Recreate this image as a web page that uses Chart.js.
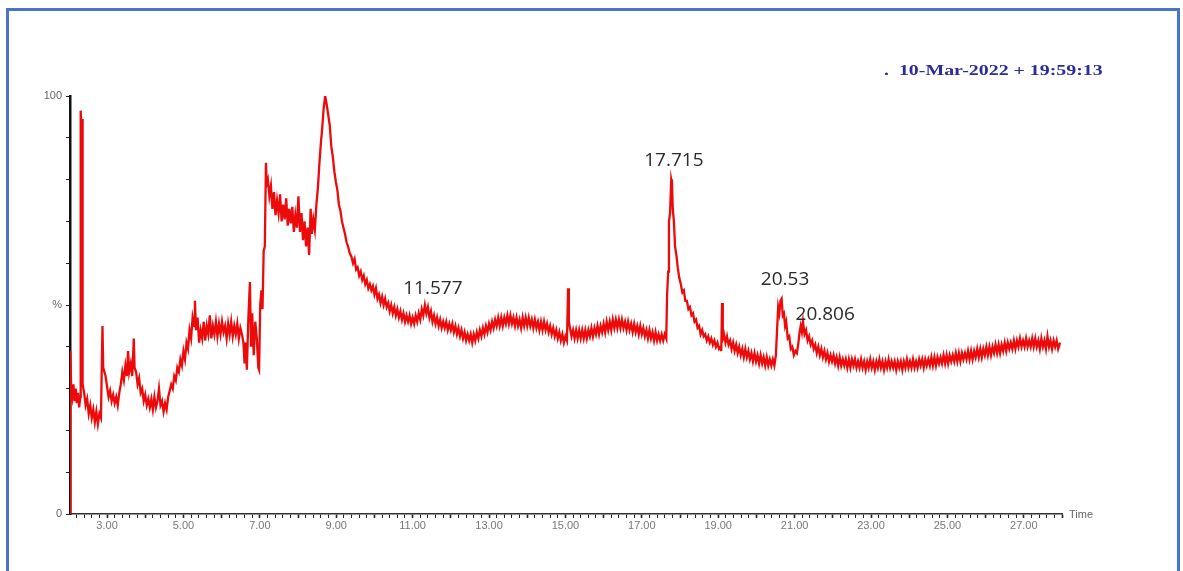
<!DOCTYPE html>
<html>
<head>
<meta charset="utf-8">
<script src="https://cdn.jsdelivr.net/npm/chart.js@4.4.1/dist/chart.umd.min.js"></script>
<style>
  body { margin: 0; background: #fff; overflow: hidden; width: 1183px; height: 571px; }
  .frame { position: absolute; left: 6px; top: 8px; width: 1168px; height: 600px; border: 3px solid #4a74c8; border-bottom: none; }
  #tic { position: absolute; left: 0; top: 0; }
  .stamp { position: absolute; left: 884px; top: 63px; font: bold 14px "Liberation Serif", serif; color: #2b2b9e; white-space: nowrap; transform: scaleX(1.42); transform-origin: left top; }
</style>
</head>
<body>
<div class="frame"></div>
<canvas id="tic" width="1183" height="571"></canvas>
<div class="stamp">.&nbsp;&nbsp;10-Mar-2022 + 19:59:13</div>
<script>
// retention time (min)
const scanTimes = [
  2.03, 2.04, 2.06, 2.09, 2.12, 2.15, 2.18, 2.21, 2.24, 2.27, 2.30, 2.31, 2.33, 2.345, 2.36, 2.40, 2.44, 2.48, 2.52, 2.56,
  2.60, 2.64, 2.68, 2.72, 2.76, 2.80, 2.84, 2.88, 2.90, 2.93, 2.96, 3.00, 3.04, 3.08, 3.12, 3.16, 3.20, 3.24, 3.28, 3.32,
  3.36, 3.40, 3.44, 3.48, 3.52, 3.55, 3.58, 3.62, 3.66, 3.70, 3.72, 3.76, 3.80, 3.84, 3.88, 3.92, 3.96, 4.00, 4.04, 4.08,
  4.12, 4.16, 4.20, 4.24, 4.28, 4.32, 4.36, 4.40, 4.44, 4.48, 4.52, 4.56, 4.60, 4.64, 4.68, 4.72, 4.76, 4.80, 4.84, 4.88,
  4.92, 4.96, 5.00, 5.04, 5.08, 5.12, 5.16, 5.20, 5.24, 5.28, 5.30, 5.33, 5.37, 5.41, 5.45, 5.49, 5.53, 5.57, 5.61, 5.65,
  5.69, 5.73, 5.77, 5.81, 5.85, 5.89, 5.93, 5.97, 6.01, 6.05, 6.09, 6.13, 6.17, 6.21, 6.25, 6.29, 6.33, 6.37, 6.41, 6.45,
  6.49, 6.53, 6.57, 6.60, 6.63, 6.66, 6.70, 6.74, 6.77, 6.80, 6.84, 6.88, 6.92, 6.96, 6.98, 7.01, 7.04, 7.07, 7.10, 7.13,
  7.16, 7.18, 7.21, 7.25, 7.29, 7.33, 7.37, 7.41, 7.45, 7.49, 7.53, 7.57, 7.61, 7.65, 7.69, 7.73, 7.77, 7.81, 7.85, 7.89,
  7.93, 7.97, 8.01, 8.05, 8.09, 8.13, 8.17, 8.21, 8.25, 8.29, 8.33, 8.36, 8.40, 8.44, 8.48, 8.52, 8.56, 8.60, 8.63, 8.67,
  8.71, 8.75, 8.79, 8.83, 8.87, 8.91, 8.95, 8.99, 9.03, 9.07, 9.11, 9.15, 9.19, 9.23, 9.27, 9.31, 9.35, 9.40, 9.44, 9.48,
  9.52, 9.56, 9.60, 9.64, 9.68, 9.72, 9.76, 9.80, 9.84, 9.88, 9.92, 9.96, 10.00, 10.04, 10.08, 10.12, 10.16, 10.20, 10.24, 10.28,
  10.32, 10.36, 10.40, 10.44, 10.48, 10.52, 10.56, 10.60, 10.64, 10.68, 10.72, 10.76, 10.80, 10.84, 10.88, 10.92, 10.96, 11.00, 11.04, 11.08,
  11.12, 11.16, 11.20, 11.24, 11.28, 11.32, 11.36, 11.40, 11.44, 11.48, 11.52, 11.56, 11.60, 11.64, 11.68, 11.72, 11.76, 11.80, 11.84, 11.88,
  11.92, 11.96, 12.00, 12.04, 12.08, 12.12, 12.16, 12.20, 12.24, 12.28, 12.32, 12.36, 12.40, 12.44, 12.48, 12.52, 12.56, 12.60, 12.64, 12.68,
  12.72, 12.76, 12.80, 12.84, 12.88, 12.92, 12.96, 13.00, 13.04, 13.08, 13.12, 13.16, 13.20, 13.24, 13.28, 13.32, 13.36, 13.40, 13.44, 13.48,
  13.52, 13.56, 13.60, 13.64, 13.68, 13.72, 13.76, 13.80, 13.84, 13.88, 13.92, 13.96, 14.00, 14.04, 14.08, 14.12, 14.16, 14.20, 14.24, 14.28,
  14.32, 14.36, 14.40, 14.44, 14.48, 14.52, 14.56, 14.60, 14.64, 14.68, 14.72, 14.76, 14.80, 14.84, 14.88, 14.92, 14.96, 15.00, 15.04, 15.07,
  15.09, 15.12, 15.16, 15.20, 15.24, 15.28, 15.32, 15.36, 15.40, 15.44, 15.48, 15.52, 15.56, 15.60, 15.64, 15.68, 15.72, 15.76, 15.80, 15.84,
  15.88, 15.92, 15.96, 16.00, 16.04, 16.08, 16.12, 16.16, 16.20, 16.24, 16.28, 16.32, 16.36, 16.40, 16.44, 16.48, 16.52, 16.56, 16.60, 16.64,
  16.68, 16.72, 16.76, 16.80, 16.84, 16.88, 16.92, 16.96, 17.00, 17.04, 17.08, 17.12, 17.16, 17.20, 17.24, 17.28, 17.32, 17.36, 17.40, 17.44,
  17.48, 17.52, 17.56, 17.60, 17.64, 17.66, 17.69, 17.71, 17.74, 17.77, 17.79, 17.81, 17.84, 17.87, 17.91, 17.94, 17.98, 18.02, 18.06, 18.10,
  18.14, 18.18, 18.22, 18.26, 18.30, 18.34, 18.38, 18.42, 18.46, 18.50, 18.54, 18.58, 18.62, 18.66, 18.70, 18.74, 18.78, 18.82, 18.86, 18.90,
  18.94, 18.98, 19.02, 19.06, 19.08, 19.10, 19.12, 19.15, 19.19, 19.23, 19.27, 19.31, 19.35, 19.39, 19.43, 19.47, 19.51, 19.55, 19.59, 19.63,
  19.67, 19.71, 19.75, 19.79, 19.83, 19.87, 19.91, 19.95, 19.99, 20.03, 20.07, 20.11, 20.15, 20.19, 20.23, 20.27, 20.31, 20.35, 20.39, 20.43,
  20.47, 20.51, 20.54, 20.57, 20.60, 20.63, 20.66, 20.69, 20.72, 20.75, 20.78, 20.82, 20.86, 20.90, 20.94, 20.98, 21.02, 21.06, 21.10, 21.13,
  21.16, 21.19, 21.22, 21.26, 21.30, 21.34, 21.38, 21.42, 21.46, 21.50, 21.54, 21.58, 21.62, 21.66, 21.70, 21.74, 21.78, 21.82, 21.86, 21.90,
  21.94, 21.98, 22.02, 22.06, 22.10, 22.14, 22.18, 22.22, 22.26, 22.30, 22.34, 22.38, 22.42, 22.46, 22.50, 22.54, 22.58, 22.62, 22.66, 22.70,
  22.74, 22.78, 22.82, 22.86, 22.90, 22.94, 22.98, 23.02, 23.06, 23.10, 23.14, 23.18, 23.22, 23.26, 23.30, 23.34, 23.38, 23.42, 23.46, 23.50,
  23.54, 23.58, 23.62, 23.66, 23.70, 23.74, 23.78, 23.82, 23.86, 23.90, 23.94, 23.98, 24.02, 24.06, 24.10, 24.14, 24.18, 24.22, 24.26, 24.30,
  24.34, 24.38, 24.42, 24.46, 24.50, 24.54, 24.58, 24.62, 24.66, 24.70, 24.74, 24.78, 24.82, 24.86, 24.90, 24.94, 24.98, 25.02, 25.06, 25.10,
  25.14, 25.18, 25.22, 25.26, 25.30, 25.34, 25.38, 25.42, 25.46, 25.50, 25.54, 25.58, 25.62, 25.66, 25.70, 25.74, 25.78, 25.82, 25.86, 25.90,
  25.94, 25.98, 26.02, 26.06, 26.10, 26.14, 26.18, 26.22, 26.26, 26.30, 26.34, 26.38, 26.42, 26.46, 26.50, 26.54, 26.58, 26.62, 26.66, 26.70,
  26.74, 26.78, 26.82, 26.86, 26.90, 26.94, 26.98, 27.02, 27.06, 27.10, 27.14, 27.18, 27.22, 27.26, 27.30, 27.34, 27.38, 27.42, 27.46, 27.50,
  27.54, 27.58, 27.62, 27.66, 27.70, 27.74, 27.78, 27.82, 27.86, 27.90, 27.95
];

// relative abundance (%)
const intensity = [
  0, 39, 30, 28, 31, 27, 30, 26.5, 29, 25.5, 28, 96.5, 91, 94.5, 31, 29, 26, 27.5, 24, 26,
  23, 25, 22, 24.5, 21.5, 24, 23, 45, 35, 34, 33, 30.5, 28, 29.5, 27, 28.5, 26.5, 28, 26, 29,
  31, 34, 32, 35.5, 33, 39, 34, 36, 33, 42, 35, 34, 31, 32.5, 29, 30, 27, 28.5, 26, 27.5,
  25.5, 27.5, 25, 28, 25.5, 27, 30, 26, 27, 24.5, 26.5, 25, 28, 29.5, 31, 30, 33, 32, 35, 34,
  37, 35.5, 39, 37, 41, 39.5, 44, 42, 47, 45, 51, 44, 47, 41, 44, 42, 46, 41.5, 45, 43,
  47.5, 42, 45, 43, 46, 42.5, 45.5, 43, 46, 43.5, 45, 42, 45.5, 43, 46, 42.5, 45, 43, 45.5, 42,
  44.5, 43, 41, 36, 41, 34.5, 47, 55.5, 40, 48, 38, 46, 42, 35, 34.5, 50, 53.5, 49, 63, 64,
  84, 79, 80, 76, 78.5, 73, 77, 71.5, 75, 72, 76.5, 70, 74, 70.5, 75.5, 69, 73, 69.5, 73.5, 67.5,
  71.5, 68.5, 76, 67.5, 72, 65.5, 70, 64, 68.5, 62, 73, 67, 70.5, 68, 74, 78, 84, 89, 92, 97,
  100, 98, 95.5, 93, 88, 85.5, 82, 79.5, 77.5, 74, 72.5, 70, 68.5, 67, 65, 64, 62.5, 61.5, 60, 61,
  58.5, 59, 57, 58, 56, 57, 55, 56, 54, 55, 53.5, 54.5, 52.5, 54, 51.5, 52.5, 50.5, 52, 50, 51.5,
  49.5, 50.5, 48.5, 50, 48, 49.5, 47.5, 49, 47, 48.5, 46.5, 48, 46, 47.5, 46, 47.5, 45.5, 47, 45.5, 47.5,
  46, 48, 46.5, 49, 47.5, 50, 48, 49.5, 47, 48.5, 46, 47.5, 45.5, 47, 45, 46.5, 44.5, 46, 44.5, 46,
  44, 45.5, 44, 45.5, 43.5, 45, 43, 44.5, 42.5, 44, 42, 43.5, 41.5, 43, 41.5, 43, 41, 43, 41.5, 43.5,
  42, 44, 42.5, 44.5, 43, 45, 43.5, 45.5, 44, 46, 44.5, 46.5, 45, 47, 45, 47, 45, 47, 45.5, 47.5,
  45.5, 47.5, 45.5, 47, 45, 47, 45, 46.5, 44.5, 47, 45, 47, 45, 47, 45, 46.5, 44.5, 46.5, 44.5, 46,
  44, 46, 44, 46, 44, 45.5, 43.5, 45, 43, 44.5, 42.5, 44, 42, 43.5, 41.5, 43, 41, 42.5, 41.5, 54,
  46, 44.5, 42.5, 44, 42, 44, 42, 44, 42, 44, 42, 44, 42, 44, 42.5, 44.5, 42.5, 44.5, 43, 45,
  43, 45, 43.5, 45.5, 43.5, 46, 44, 46, 44, 46.5, 44.5, 46.5, 44.5, 46.5, 44.5, 46.5, 44.5, 46, 44, 46,
  44, 45.5, 43.5, 45.5, 43.5, 45, 43, 45, 43, 44.5, 42.5, 44, 42, 44, 42, 43.5, 41.5, 43.5, 41.5, 43,
  41.5, 43, 41.5, 43, 42, 52, 58, 70, 72, 80, 79, 73, 70, 64, 61.5, 59, 56.5, 55, 53, 53.5,
  51, 51, 49, 49.5, 47.5, 48, 46, 46.5, 44.5, 45, 43, 44, 42.5, 43, 41.5, 42.5, 41, 42, 40.5, 41.5,
  40, 41, 39.5, 40, 39, 50.5, 42, 43, 41, 42.5, 40.5, 41.5, 39.5, 41, 39, 40.5, 38.5, 40, 38, 39.5,
  37.5, 39.5, 37.5, 39, 37, 38.5, 36.5, 38.5, 36.5, 38, 36, 38, 36, 37.5, 35.5, 37.5, 35.5, 37, 35.5, 37,
  35.5, 38, 44, 49.5, 48, 51, 51.5, 47.5, 48, 45, 46, 42, 42.5, 39.5, 40, 38, 39, 38.5, 41, 43.5,
  45, 43.5, 46, 43, 44, 41.5, 42.5, 40.5, 41.5, 39.5, 40.5, 38.5, 40, 38, 39.5, 37.5, 39, 37, 38.5, 36.5,
  38, 36.5, 38, 36, 37.5, 35.5, 37.5, 35.5, 37, 35.5, 37, 35, 37, 35, 37, 35.5, 37, 35, 36.5, 35,
  37, 35, 36.5, 34.5, 36.5, 35, 37, 35, 36.5, 34.5, 36.5, 35, 37, 35, 36.5, 34.5, 36.5, 35, 37, 35,
  36.5, 35, 36.5, 34.5, 36.5, 35, 36.5, 34.5, 36.5, 35, 37, 35, 36.5, 35, 37, 35, 36.5, 35, 37, 35.5,
  37, 35, 37, 35.5, 37, 35.5, 37.5, 35.5, 37.5, 35.5, 37.5, 36, 37.5, 36, 38, 36, 38, 36, 38, 36.5,
  38, 36.5, 38.5, 36.5, 38.5, 36.5, 38.5, 37, 38.5, 37, 39, 37, 39, 37, 39, 37.5, 39.5, 37.5, 39.5, 37.5,
  39.5, 38, 40, 38, 40, 38, 40, 38.5, 40.5, 38.5, 40.5, 38.5, 40.5, 39, 41, 39, 41, 39.5, 41, 39.5,
  41.5, 39.5, 41.5, 40, 42, 40, 41.5, 40, 42, 40, 41.5, 40, 42, 40, 42, 40, 41.5, 39.5, 42, 40,
  41.5, 39.5, 42.5, 40, 41.5, 39.5, 41.5, 40, 41.5, 39.5, 41
];

const yTickText = { 0: '0', 50: '%', 100: '100' };
const xLabelTimes = [3, 5, 7, 9, 11, 13, 15, 17, 19, 21, 23, 25, 27];

// peak annotations: text, retention time and level of the label centre
const peakNames = ['11.577', '17.715', '20.53', '20.806'];
const peakLabelTimes = [11.53, 17.84, 20.75, 21.8];
const peakLabelLevels = [54, 84.5, 56, 47.8];

const points = scanTimes.map((t, i) => ({ x: t, y: intensity[i] }));

const extras = {
  id: 'extras',
  afterDraw(chart) {
    const { ctx, scales: { x, y }, chartArea } = chart;
    ctx.save();
    ctx.fillStyle = '#2a2a2a';
    ctx.font = '19px "Open Sans", sans-serif';
    ctx.textAlign = 'center';
    ctx.textBaseline = 'middle';
    peakNames.forEach((name, i) => {
      ctx.fillText(name, x.getPixelForValue(peakLabelTimes[i]), y.getPixelForValue(peakLabelLevels[i]));
    });
    ctx.fillStyle = '#666';
    ctx.font = '11px "Liberation Sans", sans-serif';
    ctx.textAlign = 'left';
    ctx.fillText('Time', chartArea.right + 7, chartArea.bottom + 1);
    ctx.restore();
  }
};

new Chart(document.getElementById('tic'), {
  type: 'line',
  data: {
    datasets: [{
      data: points,
      borderColor: '#ec0a0a',
      borderWidth: 2.3,
      pointRadius: 0,
      tension: 0,
      fill: false
    }]
  },
  options: {
    responsive: false,
    animation: false,
    layout: { padding: { top: 96, right: 121, bottom: 0, left: 0 } },
    plugins: { legend: { display: false }, tooltip: { enabled: false } },
    scales: {
      x: {
        type: 'linear',
        min: 2.03,
        max: 28.0,
        afterFit(scale) { scale.height = 57; },
        afterBuildTicks(scale) {
          const ticks = [];
          for (let k = 11; k <= 140; k++) ticks.push({ value: k / 5 });
          scale.ticks = ticks;
        },
        border: { display: true, color: '#333', width: 1.5 },
        grid: {
          drawOnChartArea: false,
          drawTicks: true,
          tickLength: 4,
          tickColor: '#222',
          tickWidth: ctx => (Number.isInteger(ctx.tick.value) ? 1.6 : 1)
        },
        ticks: {
          autoSkip: false,
          maxRotation: 0,
          minRotation: 0,
          padding: 1,
          color: '#777',
          font: { family: '"Liberation Sans", sans-serif', size: 11 },
          callback: v => (xLabelTimes.includes(v) ? v.toFixed(2) : '')
        }
      },
      y: {
        min: 0,
        max: 100,
        afterFit(scale) { scale.width = 70; },
        border: { display: true, color: '#111', width: 2.5 },
        grid: { drawOnChartArea: false, drawTicks: true, tickLength: 4, tickColor: '#222' },
        ticks: {
          stepSize: 10,
          padding: 4,
          color: '#666',
          font: { family: '"Liberation Sans", sans-serif', size: 11 },
          callback: v => yTickText[v] || ''
        }
      }
    }
  },
  plugins: [extras]
});
</script>
</body>
</html>
